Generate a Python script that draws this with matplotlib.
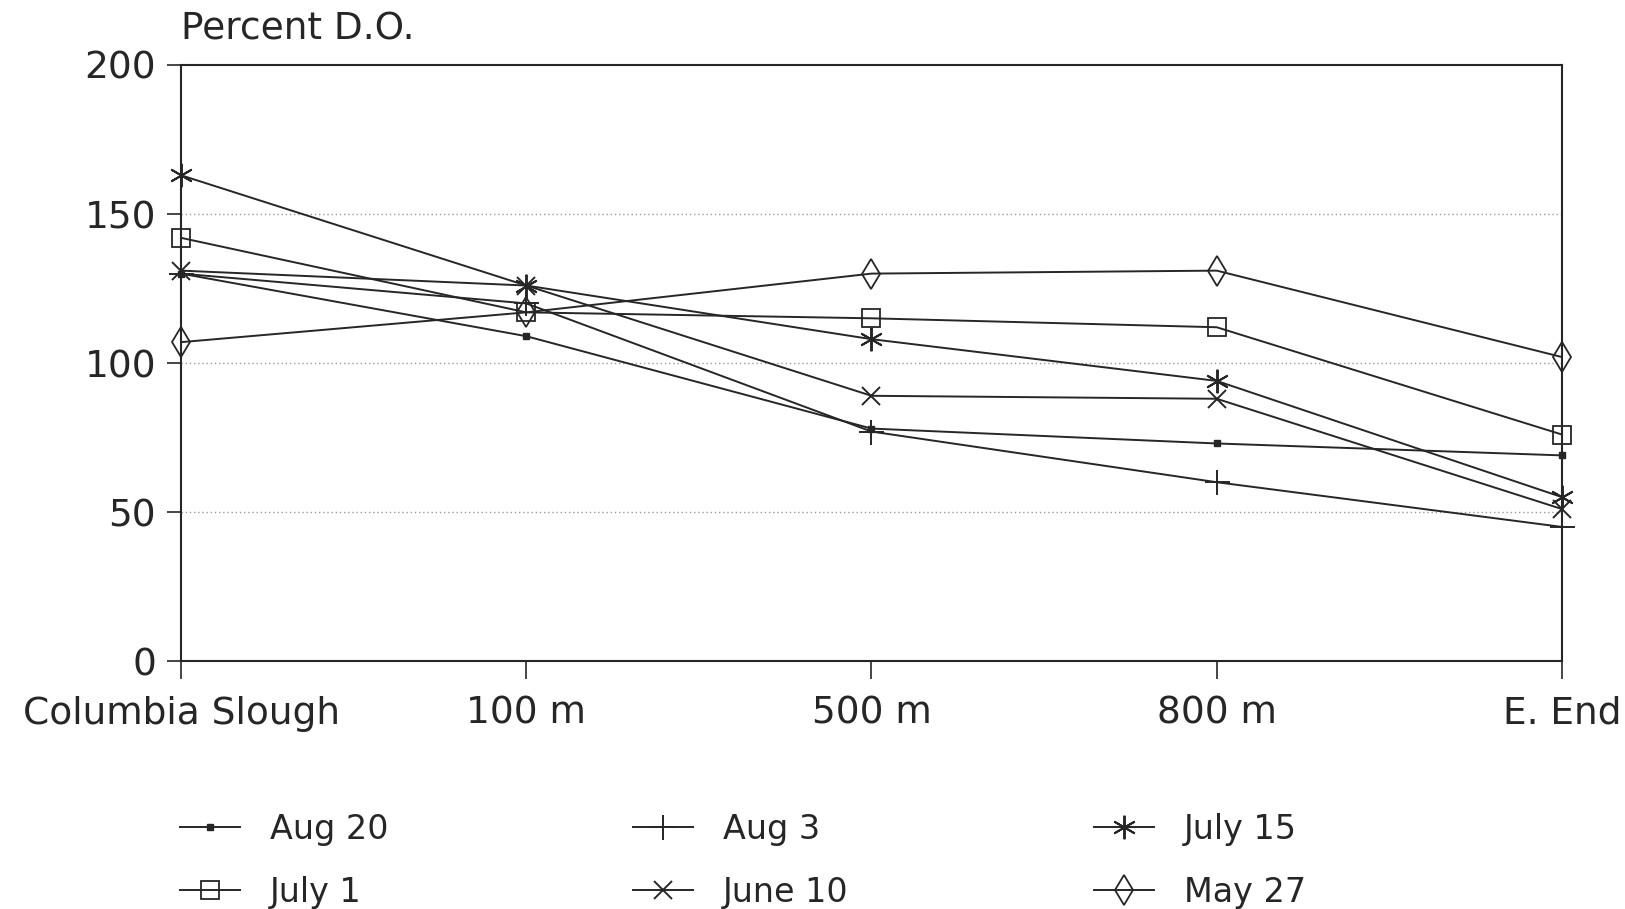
import matplotlib
matplotlib.use('Agg')
import matplotlib.pyplot as plt

# Sites along the slough
sites = ['Columbia Slough', '100 m', '500 m', '800 m', 'E. End']

# Percent dissolved oxygen per sampling date
aug20 = [130, 109, 78, 73, 69]
aug3 = [130, 120, 77, 60, 45]
july15 = [163, 126, 108, 94, 55]
july1 = [142, 117, 115, 112, 76]
june10 = [131, 126, 89, 88, 51]
may27 = [107, 117, 130, 131, 102]

plt.rcParams['font.family'] = ['DejaVu Sans']
fs = 27
ink = '#262626'

fig = plt.figure(figsize=(16.25, 9.09), dpi=100)
ax = fig.add_axes([0.1114, 0.2728, 0.8498, 0.6557])

x = range(len(sites))
lw = 1.4
kw = dict(color=ink, lw=lw, clip_on=False)
ax.plot(x, aug20, marker='s', ms=4, mfc=ink, mec=ink, label='Aug 20', **kw)
ax.plot(x, july1, marker='s', ms=13, mfc='none', mec=ink, mew=1.3, label='July 1', **kw)
ax.plot(x, aug3, marker='+', ms=18, mec=ink, mew=1.4, label='Aug 3', **kw)
ax.plot(x, june10, marker='x', ms=13, mec=ink, mew=1.4, label='June 10', **kw)
ax.plot(x, july15, marker=(6, 2, 0), ms=17, mec=ink, mew=1.4, label='July 15', **kw)
ax.plot(x, may27, marker='d', ms=15, mfc='none', mec=ink, mew=1.3, label='May 27', **kw)

ax.set_xlim(0, 4)
ax.set_ylim(0, 200)
ax.set_yticks([0, 50, 100, 150, 200])
ax.set_xticks(list(x))
ax.set_xticklabels(sites)
ax.tick_params(axis='y', direction='out', length=10, width=1.2, pad=8, labelsize=fs, colors=ink)
ax.tick_params(axis='x', direction='out', length=13, width=1.2, pad=12, labelsize=fs, colors=ink)
for s in ax.spines.values():
    s.set_color(ink)
    s.set_linewidth(1.5)

# faint dotted grid at 50, 100, 150
for g in [50, 100, 150]:
    ax.axhline(g, color='#9a9a9a', lw=1.0, ls=(0, (1, 2)), zorder=0)

ax.text(0.0, 1.03, 'Percent D.O.', transform=ax.transAxes, fontsize=fs,
        color=ink, ha='left', va='bottom')

fig.legend(loc='upper left', bbox_to_anchor=(0.092, 0.139), ncol=3, frameon=False,
           fontsize=24, handlelength=1.8, handletextpad=0.9, columnspacing=7.35,
           labelspacing=0.9, labelcolor=ink)

fig.savefig('out.png', dpi=100, facecolor='white')
